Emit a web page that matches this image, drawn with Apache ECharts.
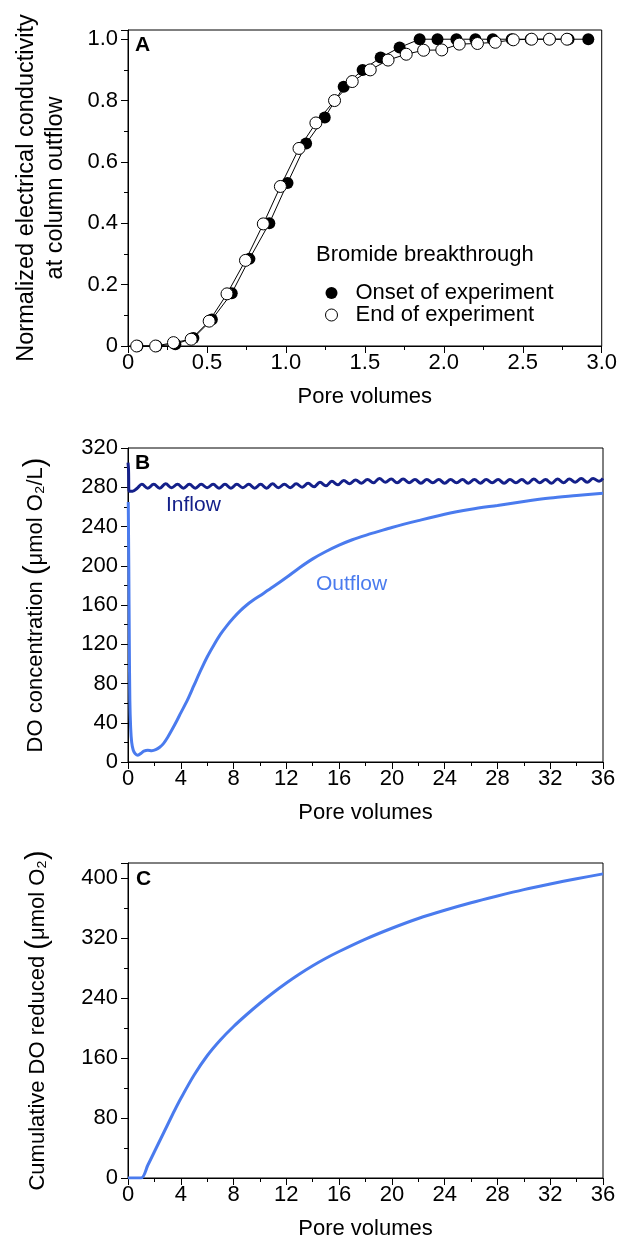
<!DOCTYPE html>
<html>
<head>
<meta charset="utf-8">
<script src="https://cdn.jsdelivr.net/npm/echarts@6/dist/echarts.min.js"></script>
<style>
  html, body { margin: 0; padding: 0; background: #fff; }
  #chart { width: 620px; height: 1241px; }
</style>
</head>
<body>
<div id="chart"></div>
<script>
// Panel A: bromide breakthrough, [pore volumes, normalized EC]
const onsetBreakthrough = [
  [0.06, 0], [0.18, 0], [0.30, 0.006], [0.414, 0.026], [0.531, 0.086], [0.657, 0.172],
  [0.769, 0.284], [0.895, 0.40], [1.01, 0.531], [1.128, 0.66], [1.246, 0.745],
  [1.366, 0.845], [1.486, 0.90], [1.60, 0.94], [1.72, 0.973], [1.847, 1.0],
  [1.96, 1.0], [2.08, 1.0], [2.20, 1.0], [2.31, 1.0], [2.43, 1.0], [2.55, 1.0],
  [2.67, 1.0], [2.79, 1.0], [2.915, 1.0]
];
const endBreakthrough = [
  [0.055, 0], [0.175, 0], [0.288, 0.011], [0.40, 0.022], [0.514, 0.081], [0.627, 0.17],
  [0.744, 0.279], [0.857, 0.398], [0.965, 0.52], [1.083, 0.644], [1.19, 0.727],
  [1.308, 0.80], [1.42, 0.862], [1.534, 0.90], [1.647, 0.932], [1.762, 0.951],
  [1.872, 0.964], [1.987, 0.965], [2.098, 0.984], [2.213, 0.986], [2.326, 0.99],
  [2.44, 0.998], [2.556, 1.0], [2.669, 1.0], [2.78, 1.0]
];

// Panel B: dissolved oxygen, [pore volumes, umol O2/L]
const inflowDO = [
  [0, 305], [0.04, 298], [0.08, 276], [0.35, 276], [0.7, 279],
  [1.05, 283], [1.5, 279], [1.95, 283], [2.4, 279], [2.85, 283.5], [3.3, 279.5],
  [3.75, 283], [4.2, 279], [4.65, 283], [5.1, 279], [5.55, 283], [6.0, 279.5],
  [6.45, 283], [6.9, 279], [7.35, 283], [7.8, 279], [8.25, 283], [8.7, 279.5],
  [9.15, 283], [9.6, 279], [10.05, 283], [10.5, 279], [10.95, 283.5], [11.4, 279.5],
  [11.85, 283], [12.3, 279.5], [12.75, 283.5], [13.2, 280], [13.65, 284], [14.1, 280.5],
  [14.55, 285], [15.0, 281.5], [15.45, 286], [15.9, 282.5], [16.35, 287], [16.8, 283.5],
  [17.25, 287.5], [17.7, 284], [18.15, 288], [18.6, 284.5], [19.05, 289], [19.5, 285],
  [19.95, 288.5], [20.4, 284.5], [20.85, 288.5], [21.3, 284.5], [21.75, 288], [22.2, 284],
  [22.65, 288], [23.1, 284.5], [23.55, 288], [24.0, 284], [24.45, 288], [24.9, 284.5],
  [25.35, 288], [25.8, 284], [26.25, 288], [26.7, 284], [27.15, 288], [27.6, 284.5],
  [28.05, 288], [28.5, 284], [28.95, 288], [29.4, 284.5], [29.85, 288], [30.3, 284],
  [30.75, 288.5], [31.2, 284.5], [31.65, 288], [32.1, 284], [32.55, 288.5], [33.0, 284.5],
  [33.45, 288.5], [33.9, 285], [34.35, 289], [34.8, 285], [35.25, 289], [35.7, 286],
  [36, 289]
];
const outflowDO = [
  [0.02, 265], [0.06, 200], [0.1, 120], [0.14, 63], [0.2, 35], [0.28, 20], [0.4, 12],
  [0.55, 8.5], [0.75, 7], [1.0, 9], [1.2, 11], [1.5, 12], [1.8, 11.5], [2.1, 12.5],
  [2.4, 15], [2.7, 19], [3.0, 25], [3.3, 32], [3.7, 42], [4.0, 50], [4.5, 63],
  [5.0, 78], [5.5, 93], [6.0, 107], [6.5, 119], [7.0, 130], [7.5, 139], [8.0, 147],
  [8.5, 154], [9.0, 160], [9.5, 165], [10, 169.5], [11, 178.5], [12, 188], [13, 198],
  [14, 207], [15, 214.5], [16, 221], [17, 226.5], [18, 231], [19, 235], [20, 239],
  [22, 246], [24, 252.5], [26, 257.5], [28, 261.5], [30, 265.5], [32, 269],
  [34, 271.5], [36, 274]
];

// Panel C: cumulative DO reduced, [pore volumes, umol O2]
const cumulativeDO = [
  [0, 0], [1.0, 0], [1.5, 17], [2.0, 35], [2.5, 53], [3.0, 71], [3.5, 89], [4.0, 106],
  [5.0, 137], [6.0, 163], [7.0, 184], [8.0, 202], [9.0, 218], [10, 233], [11, 247],
  [12, 260], [13, 272], [14, 283], [15, 293], [16, 302], [18, 318.5], [20, 333],
  [22, 346], [24, 357], [26, 367], [28, 376], [30, 384.5], [32, 392], [34, 399],
  [36, 405.5]
];

const FONT = '"Liberation Sans", Arial, Helvetica, sans-serif';
const INK = '#000';
const INFLOW_COLOR = '#14208a';
const OUTFLOW_COLOR = '#4a7bee';
const TICK_FONT = 22;

const chart = echarts.init(document.getElementById('chart'), null, { renderer: 'canvas' });

function gridBox(top, height) {
  return { left: 128, right: 17, top, height, show: true, borderColor: INK, borderWidth: 1, backgroundColor: 'transparent' };
}

function valueAxis(gridIndex, max, interval, extra) {
  return Object.assign({
    type: 'value', gridIndex, min: 0, max, interval,
    axisLine: { show: true, onZero: false, lineStyle: { color: INK, width: 1 } },
    axisTick: { show: true, inside: false, length: 7, lineStyle: { color: INK, width: 1 } },
    minorTick: { show: true, splitNumber: 2, length: 4, lineStyle: { color: INK, width: 1 } },
    splitLine: { show: false }
  }, extra);
}

function tickLabels(margin, formatter) {
  const s = { color: INK, fontSize: TICK_FONT, fontFamily: FONT, margin };
  if (formatter) s.formatter = formatter;
  return s;
}

const xName = {
  name: 'Pore volumes', nameLocation: 'middle', nameGap: 40,
  nameTextStyle: { color: INK, fontSize: 22, fontFamily: FONT }
};

const option = {
  animation: false,
  backgroundColor: '#fff',
  grid: [gridBox(30, 316), gridBox(448, 314), gridBox(863, 316)],
  xAxis: [
    valueAxis(0, 3.0, 0.5, Object.assign({ axisLabel: tickLabels(6, v => v === 0 ? '0' : v.toFixed(1)) }, xName)),
    valueAxis(1, 36, 4, Object.assign({ axisLabel: tickLabels(6) }, xName)),
    valueAxis(2, 36, 4, Object.assign({ axisLabel: tickLabels(6) }, xName))
  ],
  yAxis: [
    valueAxis(0, 1.03, 0.2, {
      axisLabel: tickLabels(10, v => v === 0 ? '0' : (v > 1.001 ? '' : v.toFixed(1))),
      name: 'Normalized electrical conductivity\nat column outflow',
      nameLocation: 'middle', nameGap: 58,
      nameTextStyle: { color: INK, fontSize: 23.5, lineHeight: 29, fontFamily: FONT, align: 'center' }
    }),
    valueAxis(1, 320, 40, {
      axisLabel: tickLabels(10),
      name: 'DO concentration {p|(}μmol O₂/L{p|)}',
      nameLocation: 'middle', nameGap: 78,
      nameTextStyle: { color: INK, fontSize: 22, fontFamily: FONT,
        rich: { p: { fontSize: 29, fontFamily: FONT, color: INK } } }
    }),
    valueAxis(2, 420, 80, {
      axisLabel: tickLabels(10, v => v > 400 ? '' : String(v)),
      name: 'Cumulative DO reduced {p|(}μmol O₂{p|)}',
      nameLocation: 'middle', nameGap: 76,
      nameTextStyle: { color: INK, fontSize: 22, fontFamily: FONT,
        rich: { p: { fontSize: 29, fontFamily: FONT, color: INK } } }
    })
  ],
  legend: {
    orient: 'vertical', left: 320, top: 277, itemGap: 0,
    itemWidth: 12, itemHeight: 12,
    textStyle: { color: INK, fontSize: 22, fontFamily: FONT, lineHeight: 22, padding: [0, 0, 0, 13] },
    data: [
      { name: 'Onset of experiment', icon: 'circle', itemStyle: { color: INK, borderWidth: 0 } },
      { name: 'End of experiment', icon: 'circle', itemStyle: { color: '#fff', borderColor: INK, borderWidth: 1 } }
    ]
  },
  graphic: [
    { type: 'text', left: 316, top: 244, style: { text: 'Bromide breakthrough', fill: INK, font: '22px ' + FONT } },
    { type: 'text', left: 135, top: 35, style: { text: 'A', fill: INK, font: 'bold 21px ' + FONT } },
    { type: 'text', left: 135, top: 453, style: { text: 'B', fill: INK, font: 'bold 21px ' + FONT } },
    { type: 'text', left: 136, top: 869, style: { text: 'C', fill: INK, font: 'bold 21px ' + FONT } },
    // series labels inside panel B
    { type: 'text', left: 166, top: 495, style: { text: 'Inflow', fill: INFLOW_COLOR, font: '21px ' + FONT } },
    { type: 'text', left: 316, top: 574, style: { text: 'Outflow', fill: OUTFLOW_COLOR, font: '21px ' + FONT } }
  ],
  series: [
    {
      name: 'Onset of experiment', type: 'line', xAxisIndex: 0, yAxisIndex: 0,
      data: onsetBreakthrough, symbol: 'circle', symbolSize: 12, showAllSymbol: true,
      lineStyle: { color: INK, width: 1 }, itemStyle: { color: INK, borderWidth: 0 }
    },
    {
      name: 'End of experiment', type: 'line', xAxisIndex: 0, yAxisIndex: 0,
      data: endBreakthrough, symbol: 'circle', symbolSize: 12, showAllSymbol: true,
      lineStyle: { color: INK, width: 1 }, itemStyle: { color: '#fff', borderColor: INK, borderWidth: 1 }
    },
    {
      name: 'Outflow', type: 'line', xAxisIndex: 1, yAxisIndex: 1,
      data: outflowDO, showSymbol: false, smooth: 0.3,
      lineStyle: { color: OUTFLOW_COLOR, width: 3 }
    },
    {
      name: 'Inflow', type: 'line', xAxisIndex: 1, yAxisIndex: 1,
      data: inflowDO, showSymbol: false, smooth: 0.4,
      lineStyle: { color: INFLOW_COLOR, width: 3 }
    },
    {
      name: 'Cumulative', type: 'line', xAxisIndex: 2, yAxisIndex: 2,
      data: cumulativeDO, showSymbol: false, smooth: 0.3,
      lineStyle: { color: OUTFLOW_COLOR, width: 3 }
    }
  ]
};

chart.setOption(option);
</script>
</body>
</html>
